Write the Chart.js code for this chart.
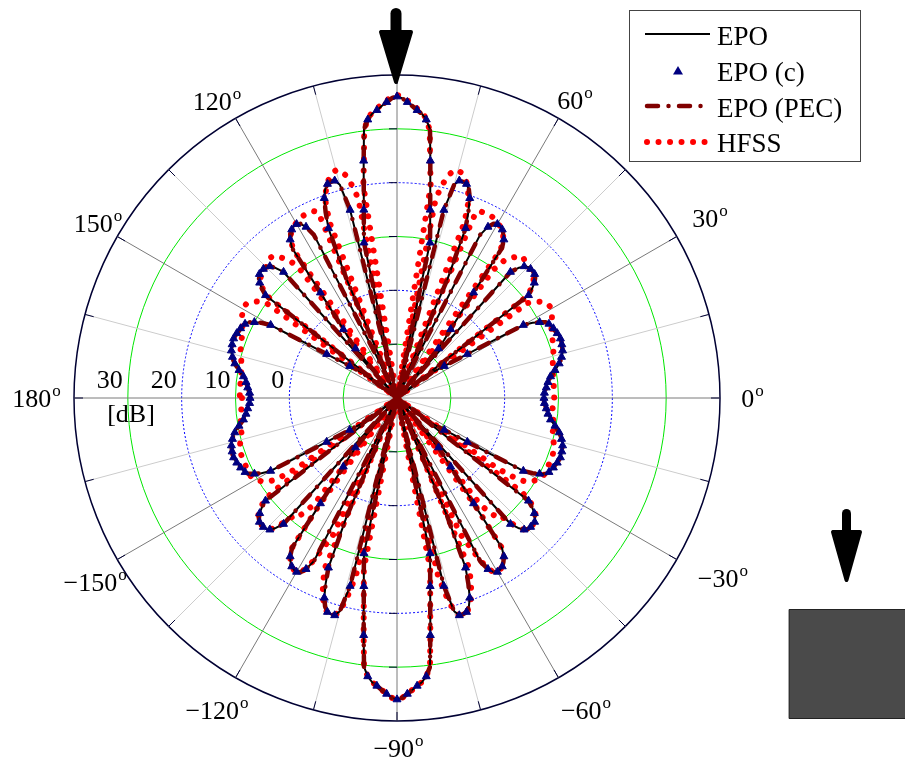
<!DOCTYPE html>
<html>
<head>
<meta charset="utf-8">
<script src="https://cdn.jsdelivr.net/npm/chart.js@4.4.1/dist/chart.umd.min.js"></script>
<style>
  html, body { margin: 0; padding: 0; background: #fff; overflow: hidden; }
  canvas { display: block; }
</style>
</head>
<body>
<canvas id="polar" width="905" height="765"></canvas>
<script>
( function () {
	'use strict';

	// ── Categories: one sample per degree, -180 .. 179 ─────────────────────
	var THETA = [];
	for ( var a = -180; a < 180; a++ ) { THETA.push( a ); }

	// Radial axis in dB
	var DB_MIN  = -20;
	var DB_MAX  = 40;
	var DB_STEP = 10;
	var DB_TICKS = [ 0, 10, 20, 30 ];

	// Angle tick labels
	var ANGLE_TICKS = [ 0, 30, 60, 120, 150, 180, -150, -120, -90, -60, -30 ];
	var ANGLE_TEXT  = [ '0', '30', '60', '120', '150', '180', '\u2212150', '\u2212120', '\u221290', '\u221260', '\u221230' ];

	var SERIES = [ 'EPO', 'EPO (c)', 'EPO (PEC)', 'HFSS' ];

	// ── EPO, dB, theta = -180 .. 179 ────────────────────────────────────────
	var EPO_DB = [
		// -180 .. -90
		7.3, 7.3, 7.4, 7.6, 7.8, 8.0, 8.2, 8.5, 8.8, 9.3,
		9.8, 10.3, 10.8, 11.2, 11.5, 11.8, 12.0, 12.1, 12.2, 12.3,
		12.3, 12.2, 12.1, 11.9, 11.8, 11.6, 11.4, 11.0, 10.0, 8.8,
		7.1, 0, -4.6, -7.4, -9.4, -10.7, -12, -20, 11, 12.3,
		13.3, 14, 14.4, 14.5, 14.5, 14.4, 14, 13, 11.5, -20,
		-8, -6, -3.8, -0.7, 4.2, 14, 15.5, 16.3, 16.9, 17.2,
		17.3, 17, 16, 14, -12, -20, -20, 4, 14, 17,
		19.5, 21, 21.8, 22, 22, 21, 16, -20, 9.5, 12.3,
		15.5, 19.5, 24.5, 30.3, 32, 33, 33.6, 34.3, 35, 35.7,
		36,
		// -89 .. -1
		35.7, 35, 34.3, 33.6, 33, 32, 30.3, 24.5, 19.5, 15.5,
		12.3, 9.5, -20, 16, 21, 22, 22, 21.8, 21, 19.5,
		17, 14, 4, -20, -20, -12, 14, 16, 17, 17.3,
		17.2, 16.9, 16.3, 15.5, 14, 4.2, -0.7, -3.8, -6, -8,
		-20, 11.5, 13, 14, 14.4, 14.5, 14.5, 14.4, 14, 13.3,
		12.3, 11, -20, -12, -10.7, -9.4, -7.4, -4.6, 0, 7.1,
		8.8, 10.0, 11.0, 11.4, 11.6, 11.8, 11.9, 12.1, 12.2, 12.3,
		12.3, 12.2, 12.1, 12.0, 11.8, 11.5, 11.2, 10.8, 10.3, 9.8,
		9.3, 8.8, 8.5, 8.2, 8.0, 7.8, 7.6, 7.4, 7.3,
		// 0 .. 90
		7.3, 7.3, 7.4, 7.6, 7.8, 8.0, 8.2, 8.5, 8.8, 9.3,
		9.8, 10.3, 10.8, 11.2, 11.5, 11.8, 12.0, 12.1, 12.2, 12.3,
		12.3, 12.2, 12.1, 11.9, 11.8, 11.6, 11.4, 11.0, 10.0, 8.8,
		7.1, 0, -4.6, -7.4, -9.4, -10.7, -12, -20, 11, 12.3,
		13.3, 14, 14.4, 14.5, 14.5, 14.4, 14, 13, 11.5, -20,
		-8, -6, -3.8, -0.7, 4.2, 14, 15.5, 16.3, 16.9, 17.2,
		17.3, 17, 16, 14, -12, -20, -20, 4, 14, 17,
		19.5, 21, 21.8, 22, 22, 21, 16, -20, 9.5, 12.3,
		15.5, 19.5, 24.5, 30.3, 32, 33, 33.6, 34.3, 35, 35.7,
		36,
		// 91 .. 179
		35.7, 35, 34.3, 33.6, 33, 32, 30.3, 24.5, 19.5, 15.5,
		12.3, 9.5, -20, 16, 21, 22, 22, 21.8, 21, 19.5,
		17, 14, 4, -20, -20, -12, 14, 16, 17, 17.3,
		17.2, 16.9, 16.3, 15.5, 14, 4.2, -0.7, -3.8, -6, -8,
		-20, 11.5, 13, 14, 14.4, 14.5, 14.5, 14.4, 14, 13.3,
		12.3, 11, -20, -12, -10.7, -9.4, -7.4, -4.6, 0, 7.1,
		8.8, 10.0, 11.0, 11.4, 11.6, 11.8, 11.9, 12.1, 12.2, 12.3,
		12.3, 12.2, 12.1, 12.0, 11.8, 11.5, 11.2, 10.8, 10.3, 9.8,
		9.3, 8.8, 8.5, 8.2, 8.0, 7.8, 7.6, 7.4, 7.3
	];

	// EPO (PEC) lies on top of EPO everywhere at this scale
	var EPO_PEC_DB = EPO_DB;

	// ── EPO (c), dB, theta = -180, -178 .. 178 ──────────────────────────────
	var EPO_C_DB = [
		// -180 .. -90
		7.3, 7.4, 7.8, 8.2, 8.8, 9.8, 10.8, 11.5, 12.0, 12.2,
		12.3, 12.1, 11.8, 11.4, 10.0, 7.1, -4.6, -9.4, null, 11,
		13.3, 14.4, 14.5, 14, 11.5, -8, -3.8, 4.2, 15.5, 16.9,
		17.3, 16, null, null, 14, 19.5, 21.8, 22, 16, 9.5,
		15.5, 24.5, 32, 33.6, 35, 36,
		// -88 .. -2
		35, 33.6, 32, 24.5, 15.5, 9.5, 16, 22, 21.8, 19.5,
		14, null, null, 16, 17.3, 16.9, 15.5, 4.2, -3.8, -8,
		11.5, 14, 14.5, 14.4, 13.3, 11, null, -9.4, -4.6, 7.1,
		10.0, 11.4, 11.8, 12.1, 12.3, 12.2, 12.0, 11.5, 10.8, 9.8,
		8.8, 8.2, 7.8, 7.4,
		// 0 .. 90
		7.3, 7.4, 7.8, 8.2, 8.8, 9.8, 10.8, 11.5, 12.0, 12.2,
		12.3, 12.1, 11.8, 11.4, 10.0, 7.1, -4.6, -9.4, null, 11,
		13.3, 14.4, 14.5, 14, 11.5, -8, -3.8, 4.2, 15.5, 16.9,
		17.3, 16, null, null, 14, 19.5, 21.8, 22, 16, 9.5,
		15.5, 24.5, 32, 33.6, 35, 36,
		// 92 .. 178
		35, 33.6, 32, 24.5, 15.5, 9.5, 16, 22, 21.8, 19.5,
		14, null, null, 16, 17.3, 16.9, 15.5, 4.2, -3.8, -8,
		11.5, 14, 14.5, 14.4, 13.3, 11, null, -9.4, -4.6, 7.1,
		10.0, 11.4, 11.8, 12.1, 12.3, 12.2, 12.0, 11.5, 10.8, 9.8,
		8.8, 8.2, 7.8, 7.4
	];

	// ── HFSS, dB, theta = -180 .. 179 ───────────────────────────────────────
	var HFSS_DB = [
		// -180 .. -90
		8.8, 8.8, 8.8, 8.9, 9, 9, 9.1, 9.2, 9.3, 9.4,
		9.5, 9.5, 9.6, 9.6, 9.7, 10, 10.3, 10.5, 10.6, 10.7,
		10.8, 10.8, 10.8, 10.8, 10.8, 10.8, 10.8, 10.8, 10.8, 10.7,
		10.4, 9.8, 9.4, 8.5, 7, 3, -20, 9, 11.5, 12.8,
		13.6, 14.1, 14.4, 14.5, 14.5, 14.4, 14, 12.8, 10.5, 8.8,
		8.8, 7.5, 5, -20, 5, 14, 15.5, 16.3, 16.9, 17.2,
		17.3, 17, 15.8, 13.6, 10.5, 8, -20, 14.4, 16.5, 18.5,
		20, 21.2, 21.9, 22.1, 22, 21, 18, 14, -20, 12.3,
		15.5, 19.5, 24.5, 30.3, 32, 33, 33.6, 34.3, 35, 35.7,
		36,
		// -89 .. -1
		35.7, 35, 34.3, 33.6, 33, 32, 30.3, 24.5, 19.5, 15.5,
		12.3, -20, 14, 18, 21, 22, 22.1, 21.9, 21.2, 20,
		18.5, 16.5, 14.4, -20, 8, 10.5, 13.6, 15.8, 17, 17.3,
		17.2, 16.9, 16.3, 15.5, 14, 5, -20, 5, 7.5, 8.8,
		8.8, 10.5, 12.8, 14, 14.4, 14.5, 14.5, 14.4, 14.1, 13.6,
		12.8, 11.5, 9, -20, 3, 7, 8.5, 9.4, 9.8, 10.4,
		10.7, 10.8, 10.8, 10.8, 10.8, 10.8, 10.8, 10.8, 10.8, 10.8,
		10.7, 10.6, 10.5, 10.3, 10, 9.7, 9.6, 9.6, 9.5, 9.5,
		9.4, 9.3, 9.2, 9.1, 9, 9, 8.9, 8.8, 8.8,
		// 0 .. 90
		9.2, 9.2, 9.2, 9.2, 9.2, 9.2, 9.2, 9.2, 9.3, 9.3,
		9.4, 9.5, 9.6, 9.7, 9.8, 10, 10.2, 10.4, 10.5, 10.7,
		10.8, 10.9, 11, 11.2, 11.4, 11.7, 12, 12.3, 12.6, 12.8,
		13, 13.1, 13, 12.6, 12, 11.3, 10, -20, 10, 12,
		13, 13.6, 14, 14.3, 14.4, 14.4, 14.5, 14.8, 15.1, 15,
		14.2, 13.4, 12.5, 10, -20, 13.5, 15.3, 16.2, 16.8, 17.2,
		17.5, 17.8, 18, 18.1, 18, 18, 18, 17.5, -20, 15,
		18.8, 20.6, 22, 22.8, 23.5, 23.8, 23.5, 22.5, 20.5, 17.8,
		-20, 20, 24.2, 30, 32.2, 33.2, 33.9, 34.6, 35.3, 36,
		36.3,
		// 91 .. 179
		36, 35.3, 34.6, 33.9, 33.2, 32.2, 30, 24.2, 20, -20,
		17.8, 20.5, 22.5, 23.5, 23.8, 23.5, 22.8, 22, 20.6, 18.8,
		15, -20, 17.5, 18, 18, 18, 18.1, 18, 17.8, 17.5,
		17.2, 16.8, 16.2, 15.3, 13.5, -20, 10, 12.5, 13.4, 14.2,
		15, 15.1, 14.8, 14.5, 14.4, 14.4, 14.3, 14, 13.6, 13,
		12, 10, -20, 10, 11.3, 12, 12.6, 13, 13.1, 13,
		12.8, 12.6, 12.3, 12, 11.7, 11.4, 11.2, 11, 10.9, 10.8,
		10.7, 10.5, 10.4, 10.2, 10, 9.8, 9.7, 9.6, 9.5, 9.4,
		9.3, 9.3, 9.2, 9.2, 9.2, 9.2, 9.2, 9.2, 9.2
	];

	// ── Helpers ─────────────────────────────────────────────────────────────
	// The radar scale steps clockwise, so samples are handed over with theta
	// descending: index i sits at theta = 179 - i.
	function idx( theta ) { return ( ( 179 - theta ) % 360 + 360 ) % 360; }
	function chartOrder( arr ) { return arr.slice().reverse(); }

	var epoCFull = THETA.map( function ( t, k ) {
		return k % 2 === 0 ? EPO_C_DB[ k / 2 ] : null;
	} );

	var SERIF = '"Liberation Serif", "Times New Roman", serif';
	var LABEL_R = 355;
	var LABEL_NUDGE = {
		'0'   : [ 0, 0 ],   '30'   : [ 5, -3 ],  '60'   : [ 0, 9 ],
		'120' : [ -3, 10 ], '150'  : [ 8, 2 ],   '180'  : [ -6, 0 ],
		'-150': [ 5, 6 ],   '-120' : [ -3, 5 ],  '-90'  : [ 1, -5 ],
		'-60' : [ 11, 5 ],  '-30'  : [ 18, 2 ],
	};

	function degLabel( ctx, txt, cx, cy ) {
		ctx.font = '26px ' + SERIF;
		var wN = ctx.measureText( txt ).width;
		ctx.font = '17px ' + SERIF;
		var wO = ctx.measureText( 'o' ).width;
		var x0 = cx - ( wN + wO ) / 2;
		ctx.font = '26px ' + SERIF;
		ctx.fillText( txt, x0, cy + 9 );
		ctx.font = '17px ' + SERIF;
		ctx.fillText( 'o', x0 + wN + 1, cy - 2 );
	}

	function arrow( ctx, x, yTop, yHead, yTip, shaftW, headW ) {
		ctx.fillStyle = '#000';
		ctx.strokeStyle = '#000';
		ctx.lineCap = 'round';
		ctx.lineJoin = 'round';
		ctx.lineWidth = shaftW;
		ctx.beginPath();
		ctx.moveTo( x, yTop + shaftW / 2 );
		ctx.lineTo( x, yHead + 4 );
		ctx.stroke();
		ctx.lineWidth = 4;
		ctx.beginPath();
		ctx.moveTo( x - headW / 2 + 2, yHead + 2 );
		ctx.lineTo( x + headW / 2 - 2, yHead + 2 );
		ctx.lineTo( x, yTip - 2 );
		ctx.closePath();
		ctx.fill();
		ctx.stroke();
	}

	var PEC_DASH  = [ 11, 10.5, 0.01, 10.5 ];
	var HFSS_DASH = [ 0.01, 11.5 ];

	function drawLegend( ctx ) {
		ctx.save();
		ctx.fillStyle = '#fff';
		ctx.fillRect( 629, 10, 232, 152 );
		ctx.strokeStyle = '#444';
		ctx.lineWidth = 1;
		ctx.strokeRect( 629.5, 10.5, 231, 151 );

		// EPO
		ctx.strokeStyle = '#000';
		ctx.lineWidth = 2;
		ctx.beginPath(); ctx.moveTo( 645, 34 ); ctx.lineTo( 710, 34 ); ctx.stroke();
		// EPO (c)
		ctx.fillStyle = '#000080';
		ctx.beginPath(); ctx.moveTo( 678, 66 ); ctx.lineTo( 683, 74.5 ); ctx.lineTo( 673, 74.5 ); ctx.closePath(); ctx.fill();
		// EPO (PEC)
		ctx.strokeStyle = '#800000';
		ctx.lineWidth = 4.5;
		ctx.lineCap = 'round';
		ctx.setLineDash( PEC_DASH );
		ctx.beginPath(); ctx.moveTo( 647, 106 ); ctx.lineTo( 703, 106 ); ctx.stroke();
		// HFSS
		ctx.strokeStyle = '#ff0000';
		ctx.lineWidth = 6;
		ctx.setLineDash( HFSS_DASH );
		ctx.beginPath(); ctx.moveTo( 647, 142 ); ctx.lineTo( 705, 142 ); ctx.stroke();
		ctx.setLineDash( [] );

		ctx.fillStyle = '#000';
		ctx.font = '27px ' + SERIF;
		ctx.textAlign = 'left';
		ctx.textBaseline = 'alphabetic';
		var base = [ 45, 80.5, 116.5, 152 ];
		SERIES.forEach( function ( name, i ) { ctx.fillText( name, 717, base[ i ] ); } );
		ctx.restore();
	}

	var decor = {
		id : 'decor',
		beforeDatasetsDraw : function ( chart ) {
			var s = chart.scales.r, ctx = chart.ctx, R = s.drawingArea;
			ctx.save();
			ctx.strokeStyle = '#000033';
			ctx.lineWidth = 1;
			ctx.beginPath();
			// short rim ticks every 15 degrees
			for ( var t = -180; t < 180; t += 15 ) {
				var p = s.getPointPosition( idx( t ), R - 9 );
				var q = s.getPointPosition( idx( t ), R );
				ctx.moveTo( p.x, p.y ); ctx.lineTo( q.x, q.y );
			}
			// ticks on the vertical axis at each ring
			for ( var v = DB_MIN + DB_STEP; v < DB_MAX; v += DB_STEP ) {
				var d = s.getDistanceFromCenterForValue( v );
				ctx.moveTo( s.xCenter - 8, s.yCenter - d ); ctx.lineTo( s.xCenter, s.yCenter - d );
				ctx.moveTo( s.xCenter - 8, s.yCenter + d ); ctx.lineTo( s.xCenter, s.yCenter + d );
			}
			ctx.stroke();
			ctx.restore();
		},
		afterDraw : function ( chart ) {
			var s = chart.scales.r, ctx = chart.ctx;
			ctx.save();
			ctx.fillStyle = '#000';
			ctx.textAlign = 'left';
			ctx.textBaseline = 'alphabetic';

			// angle labels
			ANGLE_TICKS.forEach( function ( t, i ) {
				var p = s.getPointPosition( idx( t ), LABEL_R );
				var n = LABEL_NUDGE[ String( t ) ] || [ 0, 0 ];
				degLabel( ctx, ANGLE_TEXT[ i ], p.x + n[ 0 ], p.y + n[ 1 ] );
			} );

			// dB labels along the 180 degree axis
			ctx.font = '26px ' + SERIF;
			ctx.textAlign = 'right';
			DB_TICKS.forEach( function ( v ) {
				var d = s.getDistanceFromCenterForValue( v );
				ctx.fillText( String( v ), s.xCenter - d - 5, s.yCenter - 10 );
			} );
			ctx.textAlign = 'center';
			ctx.fillText( '[dB]', 131, 422 );

			// arrows and the block
			arrow( ctx, 396, 8, 30, 84, 11, 34 );
			arrow( ctx, 846.5, 509, 530, 582, 9, 31 );
			ctx.fillStyle = '#4a4a4a';
			ctx.fillRect( 789, 609, 120, 110 );
			ctx.strokeStyle = '#222';
			ctx.lineWidth = 1;
			ctx.strokeRect( 789.5, 609.5, 120, 109 );
			ctx.restore();

			drawLegend( ctx );
		},
	};

	// Dataset 0 is painted last (on top): triangles, dash-dot, solid, dots.
	new Chart( document.getElementById( 'polar' ), {
		type : 'radar',
		data : {
			labels   : chartOrder( THETA ).map( String ),
			datasets : [
				{
					label                : SERIES[ 1 ],
					data                 : chartOrder( epoCFull ),
					showLine             : false,
					fill                 : false,
					pointStyle           : 'triangle',
					pointRadius          : 4.6,
					pointBackgroundColor : '#000080',
					pointBorderColor     : '#000080',
					pointBorderWidth     : 1,
					borderColor          : '#000080',
				},
				{
					label           : SERIES[ 2 ],
					data            : chartOrder( EPO_PEC_DB ),
					fill            : false,
					borderColor     : '#800000',
					borderWidth     : 4.5,
					borderDash      : PEC_DASH,
					borderCapStyle  : 'round',
					borderJoinStyle : 'round',
					pointRadius     : 0,
				},
				{
					label           : SERIES[ 0 ],
					data            : chartOrder( EPO_DB ),
					fill            : false,
					borderColor     : '#000',
					borderWidth     : 2,
					borderJoinStyle : 'round',
					pointRadius     : 0,
				},
				{
					label           : SERIES[ 3 ],
					data            : chartOrder( HFSS_DB ),
					fill            : false,
					borderColor     : '#ff0000',
					borderWidth     : 6,
					borderDash      : HFSS_DASH,
					borderCapStyle  : 'round',
					borderJoinStyle : 'round',
					pointRadius     : 0,
				},
			],
		},
		options : {
			responsive : false,
			animation  : false,
			layout     : { padding : { left : 74, top : 75, right : 185, bottom : 44 } },
			plugins    : { legend : { display : false }, tooltip : { enabled : false } },
			elements   : { line : { tension : 0 } },
			scales     : {
				r : {
					min        : DB_MIN,
					max        : DB_MAX,
					startAngle : 271,
					ticks      : { display : false, stepSize : DB_STEP },
					pointLabels: { display : false },
					grid       : {
						circular  : true,
						color     : function ( c ) {
							var v = c.tick.value;
							if ( v === DB_MIN ) { return 'rgba(0,0,0,0)'; }
							if ( v === DB_MAX ) { return '#000033'; }
							return ( v / 10 ) % 2 === 0 ? '#0000ff' : '#00e600';
						},
						lineWidth : function ( c ) { return c.tick.value === DB_MAX ? 1.5 : 1; },
					},
					border     : {
						dash : function ( c ) {
							var v = c.tick ? c.tick.value : DB_MIN;
							return ( v === 0 || v === 20 ) ? [ 2, 2 ] : [];
						},
					},
					angleLines : {
						color     : function ( c ) { return ( 179 - c.index ) % 30 === 0 ? '#7a7a7a' : '#cccccc'; },
						lineWidth : function ( c ) { return ( 179 - c.index ) % 15 === 0 ? 1 : 0; },
					},
				},
			},
		},
		plugins : [ decor ],
	} );
} )();
</script>
</body>
</html>
